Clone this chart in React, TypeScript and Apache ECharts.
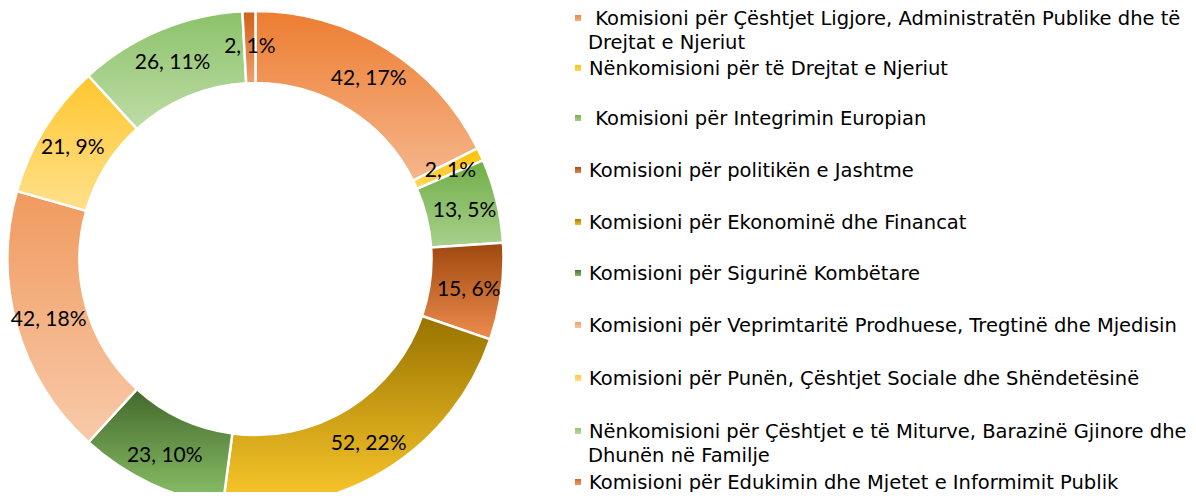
import React, { useEffect, useRef } from "react";
import * as echarts from "echarts";

const names = [
  "Komisioni për Çështjet Ligjore, Administratën Publike dhe të Drejtat e Njeriut",
  "Nënkomisioni për të Drejtat e Njeriut",
  "Komisioni për Integrimin Europian",
  "Komisioni për politikën e Jashtme",
  "Komisioni për Ekonominë dhe Financat",
  "Komisioni për Sigurinë Kombëtare",
  "Komisioni për Veprimtaritë Prodhuese, Tregtinë dhe Mjedisin",
  "Komisioni për Punën, Çështjet Sociale dhe Shëndetësinë",
  "Nënkomisioni për Çështjet e të Miturve, Barazinë Gjinore dhe Dhunën në Familje",
  "Komisioni për Edukimin dhe Mjetet e Informimit Publik",
];
// legend lines (first line, optional wrapped second line)
const legendLine1 = [
  " Komisioni për Çështjet Ligjore, Administratën Publike dhe të",
  "Nënkomisioni për të Drejtat e Njeriut",
  " Komisioni për Integrimin Europian",
  "Komisioni për politikën e Jashtme",
  "Komisioni për Ekonominë dhe Financat",
  "Komisioni për Sigurinë Kombëtare",
  "Komisioni për Veprimtaritë Prodhuese, Tregtinë dhe Mjedisin",
  "Komisioni për Punën, Çështjet Sociale dhe Shëndetësinë",
  "Nënkomisioni për Çështjet e të Miturve, Barazinë Gjinore dhe",
  "Komisioni për Edukimin dhe Mjetet e Informimit Publik",
];
const legendLine2 = ["Drejtat e Njeriut", "", "", "", "", "", "", "", "Dhunën në Familje", ""];
const values = [42, 2, 13, 15, 52, 23, 42, 21, 26, 2];
const percents = [17, 1, 5, 6, 22, 10, 18, 9, 11, 1];

const colorsTop = ["#ED7D31", "#FFC000", "#70AD47", "#9E480E", "#997300", "#43682B", "#F09A5E", "#FFC62E", "#8BC26A", "#D0611A"];
const colorsBottom = ["#F5B68C", "#FFD75C", "#A9D18E", "#EF8C4E", "#FCC92C", "#8CC36A", "#F8CAAA", "#FFE08C", "#BEDCA6", "#EFA06C"];

const legendCenters = [18, 68, 118, 170, 222, 273, 325, 378, 431, 482];
const LABEL_FONT = "Lato, 'Open Sans', sans-serif";
const LEGEND_FONT = "'DejaVu Sans', sans-serif";
const LEGEND_SIZE = 19.5;

export default function App() {
  const ref = useRef<HTMLDivElement>(null);
  useEffect(() => {
    if (!ref.current) return;
    const chart = echarts.init(ref.current, undefined, { renderer: "svg" });
    const data = values.map((v, i) => ({
      name: names[i],
      value: v,
      itemStyle: {
        color: new echarts.graphic.LinearGradient(0, 0, 0, 1, [
          { offset: 0, color: colorsTop[i] },
          { offset: 1, color: colorsBottom[i] },
        ]),
      },
    }));
    const legends = names.map((n, i) => ({
      data: [n],
      left: 573,
      top: legendCenters[i] - 11,
      padding: 0,
      orient: "horizontal",
      icon: "rect",
      itemWidth: 8,
      itemHeight: 8,
      selectedMode: false,
      formatter: () => legendLine1[i],
      textStyle: { fontFamily: LEGEND_FONT, fontSize: LEGEND_SIZE, color: "#000", lineHeight: 22, padding: [0, 0, 0, 2] },
    }));
    const graphics = legendLine2
      .map((t, i) =>
        t
          ? {
              type: "text",
              left: 588,
              top: legendCenters[i] + 14,
              style: { text: t, font: `${LEGEND_SIZE}px ${LEGEND_FONT}`, fill: "#000" },
            }
          : null
      )
      .filter(Boolean);
    chart.setOption({
      animation: false,
      legend: legends,
      graphic: graphics,
      series: [
        {
          type: "pie",
          center: [255.5, 259],
          radius: [176, 248],
          startAngle: 90,
          clockwise: true,
          avoidLabelOverlap: false,
          data,
          itemStyle: { borderColor: "#fff", borderWidth: 2.5 },
          label: {
            position: "inside",
            formatter: (p: any) => `${values[p.dataIndex]}, ${percents[p.dataIndex]}%`,
            fontFamily: LABEL_FONT,
            fontSize: 21,
            color: "#000",
          },
          labelLine: { show: false },
          emphasis: { disabled: true },
        },
      ],
    });
    return () => chart.dispose();
  }, []);
  return <div ref={ref} style={{ width: 1196, height: 500, margin: -8 }} />;
}
